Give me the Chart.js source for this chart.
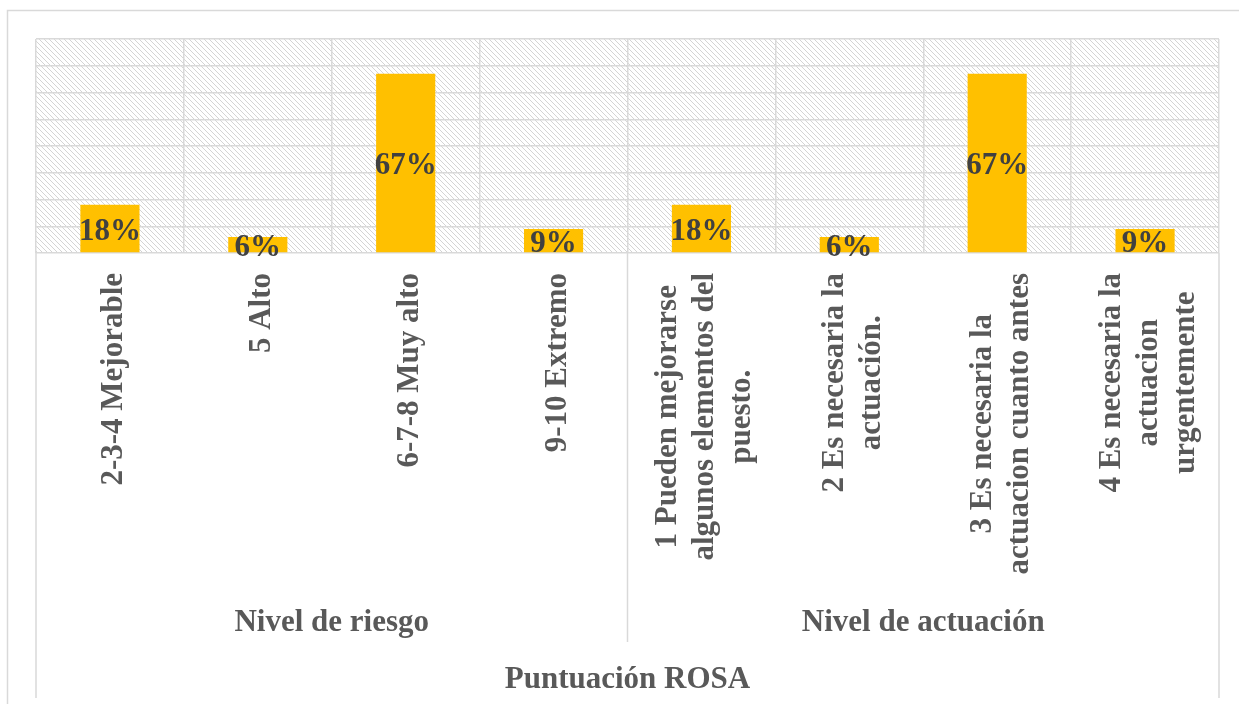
<!DOCTYPE html>
<html>
<head>
<meta charset="utf-8">
<script src="https://cdn.jsdelivr.net/npm/chart.js@4/dist/chart.umd.min.js"></script>
<style>
  body { margin: 0; background: #fff; }
  #wrap { width: 1239px; height: 704px; }
</style>
</head>
<body>
<div id="wrap"><canvas id="rosa-chart" width="1239" height="704"></canvas></div>
<script>
// Categories (each one split into the lines it shows on the chart)
const categories = [
  ['2-3-4 Mejorable'],
  ['5 Alto'],
  ['6-7-8 Muy alto'],
  ['9-10 Extremo'],
  ['1 Pueden mejorarse', 'algunos elementos del', 'puesto.'],
  ['2 Es necesaria la', 'actuación.'],
  ['3 Es necesaria la', 'actuacion cuanto antes'],
  ['4 Es necesaria la', 'actuacion', 'urgentemente']
];
const values = [0.18, 0.06, 0.67, 0.09, 0.18, 0.06, 0.67, 0.09];
const groupNames = ['Nivel de riesgo', 'Nivel de actuación'];
const groupSizes = [4, 4];
const axisTitle = 'Puntuación ROSA';

const serif = '"Liberation Serif", "Times New Roman", serif';
const gridColor = '#d9d9d9';
const textColor = '#595959';

// diagonal hatch for the plot background
function makeHatch() {
  const s = 5;
  const c = document.createElement('canvas');
  c.width = s; c.height = s;
  const g = c.getContext('2d');
  g.strokeStyle = '#d4d4d4';
  g.lineWidth = 1;
  for (const k of [-s, 0, s]) {
    g.beginPath();
    g.moveTo(k, 0);
    g.lineTo(k + s, s);
    g.stroke();
  }
  return c;
}

const backgroundPlugin = {
  id: 'background',
  beforeDraw(chart) {
    const { ctx, chartArea: a } = chart;
    ctx.save();
    ctx.fillStyle = '#fff';
    ctx.fillRect(0, 0, chart.width, chart.height);
    ctx.fillStyle = ctx.createPattern(makeHatch(), 'repeat');
    ctx.fillRect(a.left, a.top, a.right - a.left, a.bottom - a.top);
    // outer frame
    ctx.strokeStyle = gridColor;
    ctx.lineWidth = 1.5;
    ctx.strokeRect(7.5, 10.5, chart.width + 20, chart.height + 20);
    ctx.restore();
  }
};

const barLabelPlugin = {
  id: 'barLabels',
  afterDatasetsDraw(chart) {
    const { ctx } = chart;
    const meta = chart.getDatasetMeta(0);
    ctx.save();
    ctx.font = 'bold 31px ' + serif;
    ctx.fillStyle = '#404040';
    ctx.textAlign = 'center';
    ctx.textBaseline = 'middle';
    meta.data.forEach((bar, i) => {
      const v = chart.data.datasets[0].data[i];
      ctx.fillText(Math.round(v * 100) + '%', bar.x, (bar.y + bar.base) / 2 + 3);
    });
    ctx.restore();
  }
};

// rotated multi-line tick labels, group labels and the axis divider lines
const multiAxisPlugin = {
  id: 'multiAxis',
  afterDraw(chart) {
    const { ctx, chartArea: a } = chart;
    const xs = chart.scales.x;
    const step = (xs.right - xs.left) / categories.length;
    ctx.save();

    ctx.font = 'bold 31px ' + serif;
    ctx.fillStyle = textColor;
    ctx.textBaseline = 'middle';
    const lineH = 37;
    const top = a.bottom + 20;
    categories.forEach((lines, i) => {
      const x = xs.getPixelForValue(i) + 4;
      const maxW = Math.max(...lines.map(l => ctx.measureText(l).width));
      ctx.save();
      ctx.translate(x, top);
      ctx.rotate(-Math.PI / 2);
      ctx.textAlign = 'center';
      lines.forEach((l, j) => {
        ctx.fillText(l, -maxW / 2, (j - (lines.length - 1) / 2) * lineH);
      });
      ctx.restore();
    });

    // group labels
    ctx.textAlign = 'center';
    let start = 0;
    groupNames.forEach((name, g) => {
      const x0 = xs.left + start * step;
      const x1 = xs.left + (start + groupSizes[g]) * step;
      ctx.fillText(name, (x0 + x1) / 2, 623);
      start += groupSizes[g];
    });

    // divider lines
    ctx.strokeStyle = gridColor;
    ctx.lineWidth = 1.5;
    ctx.beginPath();
    ctx.moveTo(xs.left, a.bottom); ctx.lineTo(xs.left, 698);
    ctx.moveTo(xs.right, a.bottom); ctx.lineTo(xs.right, 698);
    let acc = 0;
    groupSizes.slice(0, -1).forEach(n => {
      acc += n;
      const x = xs.left + acc * step;
      ctx.moveTo(x, a.bottom); ctx.lineTo(x, 642);
    });
    ctx.stroke();
    ctx.restore();
  }
};

new Chart(document.getElementById('rosa-chart'), {
  type: 'bar',
  data: {
    labels: categories,
    datasets: [{
      data: values,
      backgroundColor: '#FFC000',
      barPercentage: 0.4,
      categoryPercentage: 1
    }]
  },
  options: {
    responsive: false,
    animation: false,
    layout: { padding: { left: 36, top: 39, right: 20, bottom: 0 } },
    plugins: { legend: { display: false }, tooltip: { enabled: false } },
    scales: {
      x: {
        offset: true,
        grid: { color: gridColor, lineWidth: 1.5, drawTicks: false, offset: true },
        border: { display: false },
        ticks: { display: false },
        title: {
          display: true,
          text: axisTitle,
          color: textColor,
          font: { family: serif, size: 31, weight: 'bold' },
          padding: { top: 0, bottom: 5 }
        },
        afterFit: s => { s.height = 451; }
      },
      y: {
        min: 0,
        max: 0.8,
        ticks: { display: false, stepSize: 0.1 },
        grid: { color: gridColor, lineWidth: 1.5, drawTicks: false },
        border: { display: false },
        afterFit: s => { s.width = 0; }
      }
    }
  },
  plugins: [backgroundPlugin, barLabelPlugin, multiAxisPlugin]
});
</script>
</body>
</html>
